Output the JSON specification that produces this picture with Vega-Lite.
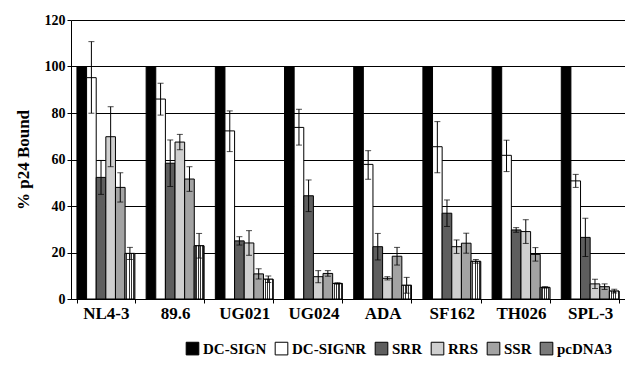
{
  "$schema": "https://vega.github.io/schema/vega-lite/v6.json",
  "width": 554,
  "height": 279,
  "autosize": "none",
  "padding": {"left": 71, "top": 20, "right": 0, "bottom": 80},
  "background": "white",
  "config": {"view": {"stroke": null}, "font": "Liberation Serif, Times New Roman, serif"},
  "data": {
    "values": [
      {"strain": "NL4-3", "series": "DC-SIGN", "value": 100, "lo": null, "hi": null},
      {"strain": "NL4-3", "series": "DC-SIGNR", "value": 95.2, "lo": 79.9, "hi": 110.7},
      {"strain": "NL4-3", "series": "SRR", "value": 52.3, "lo": 45, "hi": 59.6},
      {"strain": "NL4-3", "series": "RRS", "value": 69.8, "lo": 56.9, "hi": 82.7},
      {"strain": "NL4-3", "series": "SSR", "value": 48, "lo": 41.7, "hi": 54.3},
      {"strain": "NL4-3", "series": "pcDNA3", "value": 19.6, "lo": 17, "hi": 22.2},
      {"strain": "89.6", "series": "DC-SIGN", "value": 100, "lo": null, "hi": null},
      {"strain": "89.6", "series": "DC-SIGNR", "value": 86, "lo": 79.1, "hi": 92.8},
      {"strain": "89.6", "series": "SRR", "value": 58.4, "lo": 48.4, "hi": 68.4},
      {"strain": "89.6", "series": "RRS", "value": 67.5, "lo": 64.2, "hi": 70.8},
      {"strain": "89.6", "series": "SSR", "value": 51.6, "lo": 46.3, "hi": 56.9},
      {"strain": "89.6", "series": "pcDNA3", "value": 22.9, "lo": 17.6, "hi": 28.2},
      {"strain": "UG021", "series": "DC-SIGN", "value": 100, "lo": null, "hi": null},
      {"strain": "UG021", "series": "DC-SIGNR", "value": 72.3, "lo": 63.4, "hi": 80.9},
      {"strain": "UG021", "series": "SRR", "value": 25, "lo": 23.2, "hi": 26.8},
      {"strain": "UG021", "series": "RRS", "value": 24.1, "lo": 18.8, "hi": 29.4},
      {"strain": "UG021", "series": "SSR", "value": 10.8, "lo": 8.6, "hi": 13},
      {"strain": "UG021", "series": "pcDNA3", "value": 8.5, "lo": 7.1, "hi": 9.9},
      {"strain": "UG024", "series": "DC-SIGN", "value": 100, "lo": null, "hi": null},
      {"strain": "UG024", "series": "DC-SIGNR", "value": 73.8, "lo": 66.2, "hi": 81.6},
      {"strain": "UG024", "series": "SRR", "value": 44.4, "lo": 37.6, "hi": 51.2},
      {"strain": "UG024", "series": "RRS", "value": 9.6, "lo": 7, "hi": 12.2},
      {"strain": "UG024", "series": "SSR", "value": 11, "lo": 9.8, "hi": 12.2},
      {"strain": "UG024", "series": "pcDNA3", "value": 6.7, "lo": 6.4, "hi": 7},
      {"strain": "ADA", "series": "DC-SIGN", "value": 100, "lo": null, "hi": null},
      {"strain": "ADA", "series": "DC-SIGNR", "value": 57.9, "lo": 51.5, "hi": 63.8},
      {"strain": "ADA", "series": "SRR", "value": 22.5, "lo": 16.8, "hi": 28.2},
      {"strain": "ADA", "series": "RRS", "value": 8.9, "lo": 8.2, "hi": 9.6},
      {"strain": "ADA", "series": "SSR", "value": 18.4, "lo": 14.6, "hi": 22.2},
      {"strain": "ADA", "series": "pcDNA3", "value": 5.9, "lo": 2.5, "hi": 9.3},
      {"strain": "SF162", "series": "DC-SIGN", "value": 100, "lo": null, "hi": null},
      {"strain": "SF162", "series": "DC-SIGNR", "value": 65.5, "lo": 54.3, "hi": 76.3},
      {"strain": "SF162", "series": "SRR", "value": 36.9, "lo": 31.2, "hi": 42.6},
      {"strain": "SF162", "series": "RRS", "value": 22.5, "lo": 19.6, "hi": 25.4},
      {"strain": "SF162", "series": "SSR", "value": 24, "lo": 19.7, "hi": 28.3},
      {"strain": "SF162", "series": "pcDNA3", "value": 16.2, "lo": 15.4, "hi": 17},
      {"strain": "TH026", "series": "DC-SIGN", "value": 100, "lo": null, "hi": null},
      {"strain": "TH026", "series": "DC-SIGNR", "value": 61.8, "lo": 54.8, "hi": 68.3},
      {"strain": "TH026", "series": "SRR", "value": 29.7, "lo": 28.7, "hi": 30.7},
      {"strain": "TH026", "series": "RRS", "value": 29, "lo": 23.9, "hi": 34.1},
      {"strain": "TH026", "series": "SSR", "value": 19.2, "lo": 16.3, "hi": 22.1},
      {"strain": "TH026", "series": "pcDNA3", "value": 5, "lo": 4.7, "hi": 5.3},
      {"strain": "SPL-3", "series": "DC-SIGN", "value": 100, "lo": null, "hi": null},
      {"strain": "SPL-3", "series": "DC-SIGNR", "value": 50.8, "lo": 48, "hi": 53.6},
      {"strain": "SPL-3", "series": "SRR", "value": 26.5, "lo": 18.3, "hi": 34.7},
      {"strain": "SPL-3", "series": "RRS", "value": 6.5, "lo": 4.5, "hi": 8.5},
      {"strain": "SPL-3", "series": "SSR", "value": 5.3, "lo": 4.1, "hi": 6.5},
      {"strain": "SPL-3", "series": "pcDNA3", "value": 3.4, "lo": 2.6, "hi": 4.2}
    ]
  },
  "encoding": {
    "x": {
      "field": "strain",
      "type": "nominal",
      "sort": ["NL4-3", "89.6", "UG021", "UG024", "ADA", "SF162", "TH026", "SPL-3"],
      "scale": {"paddingInner": 0.165, "paddingOuter": 0.086},
      "axis": {
        "title": null,
        "labelAngle": 0,
        "labelFont": "Liberation Serif, Times New Roman, serif",
        "labelFontWeight": "bold",
        "labelFontSize": 17,
        "labelColor": "black",
        "labelPadding": 2,
        "domainColor": "black",
        "domainWidth": 1,
        "tickColor": "black",
        "tickSize": 4,
        "tickBand": "extent"
      }
    },
    "xOffset": {
      "field": "series",
      "type": "nominal",
      "sort": ["DC-SIGN", "DC-SIGNR", "SRR", "RRS", "SSR", "pcDNA3"]
    }
  },
  "layer": [
    {
      "mark": {"type": "bar", "stroke": "black", "strokeWidth": 1},
      "encoding": {
        "y": {
          "field": "value",
          "type": "quantitative",
          "title": "% p24 Bound",
          "scale": {"domain": [0, 120], "nice": false},
          "axis": {
            "values": [0, 20, 40, 60, 80, 100, 120],
            "grid": true,
            "gridColor": "black",
            "gridOpacity": 1,
            "gridWidth": 1,
            "domainColor": "black",
            "tickColor": "black",
            "tickSize": 4,
            "labelFont": "Liberation Serif, Times New Roman, serif",
            "labelFontWeight": "bold",
            "labelFontSize": 14,
            "labelColor": "black",
            "labelPadding": 2,
            "titleFont": "Liberation Serif, Times New Roman, serif",
            "titleFontWeight": "bold",
            "titleFontSize": 17,
            "titleColor": "black",
            "titlePadding": 12
          }
        },
        "fill": {
          "field": "series",
          "type": "nominal",
          "scale": {
            "domain": ["DC-SIGN", "DC-SIGNR", "SRR", "RRS", "SSR", "pcDNA3"],
            "range": ["black", "white", "#5e5e5e", "#cfcfcf", "#a3a3a3", "#7a7a7a"]
          },
          "legend": {
            "orient": "none",
            "legendX": 114,
            "legendY": 321,
            "direction": "horizontal",
            "title": null,
            "symbolType": "square",
            "symbolSize": 160,
            "symbolStrokeColor": "black",
            "symbolStrokeWidth": 1,
            "symbolOpacity": 1,
            "labelFont": "Liberation Serif, Times New Roman, serif",
            "labelFontWeight": "bold",
            "labelFontSize": 15,
            "labelColor": "black",
            "labelOffset": 3,
            "columnPadding": 6
          }
        }
      }
    },
    {
      "transform": [{"filter": "datum.series === 'pcDNA3'"}],
      "mark": {
        "type": "bar",
        "stroke": "black",
        "strokeWidth": 1,
        "fill": {
          "gradient": "linear", "x1": 0, "y1": 0, "x2": 1, "y2": 0,
          "stops": [
            {"offset": 0, "color": "#ffffff"},
            {"offset": 0.12, "color": "#ffffff"},
            {"offset": 0.12, "color": "#333333"},
            {"offset": 0.24, "color": "#333333"},
            {"offset": 0.24, "color": "#ffffff"},
            {"offset": 0.36, "color": "#ffffff"},
            {"offset": 0.36, "color": "#333333"},
            {"offset": 0.48, "color": "#333333"},
            {"offset": 0.48, "color": "#ffffff"},
            {"offset": 0.6, "color": "#ffffff"},
            {"offset": 0.6, "color": "#333333"},
            {"offset": 0.72, "color": "#333333"},
            {"offset": 0.72, "color": "#ffffff"},
            {"offset": 0.84, "color": "#ffffff"},
            {"offset": 0.84, "color": "#333333"},
            {"offset": 0.96, "color": "#333333"},
            {"offset": 0.96, "color": "#ffffff"},
            {"offset": 1, "color": "#ffffff"}
          ]
        }
      },
      "encoding": {
        "y": {"field": "value", "type": "quantitative", "title": "% p24 Bound"}
      }
    },
    {
      "transform": [{"filter": "datum.hi != null"}],
      "mark": {"type": "rule", "color": "black", "strokeWidth": 1},
      "encoding": {
        "y": {"field": "lo", "type": "quantitative", "title": "% p24 Bound"},
        "y2": {"field": "hi"}
      }
    },
    {
      "transform": [{"filter": "datum.hi != null"}],
      "mark": {"type": "tick", "color": "black", "size": 6, "thickness": 1},
      "encoding": {
        "y": {"field": "hi", "type": "quantitative", "title": "% p24 Bound"}
      }
    },
    {
      "transform": [{"filter": "datum.hi != null"}],
      "mark": {"type": "tick", "color": "black", "size": 6, "thickness": 1},
      "encoding": {
        "y": {"field": "lo", "type": "quantitative", "title": "% p24 Bound"}
      }
    }
  ]
}
